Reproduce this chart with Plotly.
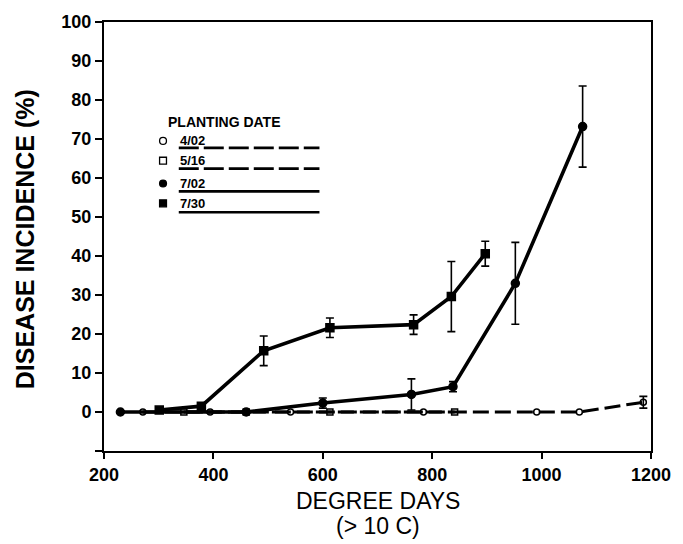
import plotly.graph_objects as go

# ---------------- data ----------------
x_0402 = [271, 394, 541, 784, 991, 1069, 1186]
y_0402 = [0, 0, 0, 0, 0, 0, 2.5]
e_0402 = [0, 0, 0, 0, 0, 0, 1.5]

x_0516 = [346, 460, 613, 841]
y_0516 = [0, 0, 0, 0]
e_0516 = [0, 0, 0, 0]

x_0702 = [230, 460, 600, 762, 838, 952, 1075]
y_0702 = [0, 0, 2.3, 4.5, 6.5, 33.0, 73.2]
e_0702 = [0, 0, 1.3, 4.0, 1.3, 10.5, 10.4]

x_0730 = [301, 378, 492, 613, 766, 835, 897]
y_0730 = [0.5, 1.5, 15.7, 21.6, 22.4, 29.6, 40.6]
e_0730 = [0, 0, 3.8, 2.5, 2.5, 9.0, 3.2]

legend_labels = ["4/02", "5/16", "7/02", "7/30"]
x_ticks = [200, 400, 600, 800, 1000, 1200]
y_ticks = [-10, 0, 10, 20, 30, 40, 50, 60, 70, 80, 90, 100]
y_ticktext = ["", "0", "10", "20", "30", "40", "50", "60", "70", "80", "90", "100"]

FONT = "Liberation Sans"
W_FIG, H_FIG = 683, 544
L, R, T, B = 104, 23, 18, 93
PW, PH = W_FIG - L - R, H_FIG - T - B

series = [
    (x_0402, y_0402, e_0402, "circle-open", "16px,6px", 3.0, 6),
    (x_0516, y_0516, e_0516, "square-open", "16px,6px", 3.0, 6),
    (x_0702, y_0702, e_0702, "circle", "solid", 3.6, 8),
    (x_0730, y_0730, e_0730, "square", "solid", 3.6, 8),
]

fig = go.Figure()
for xs, ys, es, sym, dash, lw, ms in series:
    fig.add_trace(go.Scatter(
        x=xs, y=ys, mode="lines+markers",
        line=dict(color="black", width=lw, dash=dash),
        marker=dict(symbol=sym, size=ms, color="black",
                    line=dict(color="black", width=1.5)),
        showlegend=False, hoverinfo="skip"))
    # error bars only where an error exists
    ex = [x for x, e in zip(xs, es) if e > 0]
    ey = [y for y, e in zip(ys, es) if e > 0]
    ee = [e for e in es if e > 0]
    if ex:
        fig.add_trace(go.Scatter(
            x=ex, y=ey, mode="markers",
            marker=dict(size=1, color="rgba(0,0,0,0)"),
            error_y=dict(type="data", array=ee, visible=True,
                         color="black", thickness=1.6, width=4),
            showlegend=False, hoverinfo="skip"))

# ---------------- hand-drawn style legend (paper coords) ----------------
def px(xp):
    return (xp - L) / PW

def py(yp):
    return (T + PH - yp) / PH

shapes = []
annotations = []
row_text_y = [138, 158, 181, 201]
row_line_y = [145, 166, 189, 210]
for i, (lab, s) in enumerate(zip(legend_labels, series)):
    sym, dash = s[3], s[4]
    mx, my, r = 164, row_text_y[i], 3.5
    filled = not sym.endswith("open")
    kind = "circle" if sym.startswith("circle") else "rect"
    shapes.append(dict(type=kind, xref="paper", yref="paper",
                       x0=px(mx - r), x1=px(mx + r), y0=py(my + r), y1=py(my - r),
                       line=dict(color="black", width=1.3),
                       fillcolor="black" if filled else "white"))
    shapes.append(dict(type="line", xref="paper", yref="paper",
                       x0=px(180), x1=px(323), y0=py(row_line_y[i]), y1=py(row_line_y[i]),
                       line=dict(color="black", width=2.6,
                                 dash="20px,5px" if dash != "solid" else "solid")))
    annotations.append(dict(text=lab, xref="paper", yref="paper",
                            x=px(179), y=py(row_text_y[i]), xanchor="left", yanchor="middle",
                            showarrow=False,
                            font=dict(family=FONT, size=13, color="black", weight="bold")))

annotations.append(dict(text="PLANTING DATE", xref="paper", yref="paper",
                        x=px(167), y=py(119), xanchor="left", yanchor="middle",
                        showarrow=False,
                        font=dict(family=FONT, size=14, color="black", weight="bold")))

# axis titles
annotations.append(dict(text="DEGREE DAYS", xref="paper", yref="paper",
                        x=0.5, y=py(501), xanchor="center", yanchor="middle",
                        showarrow=False,
                        font=dict(family=FONT, size=23, color="black")))
annotations.append(dict(text="(&gt; 10 C)", xref="paper", yref="paper",
                        x=0.5, y=py(527), xanchor="center", yanchor="middle",
                        showarrow=False,
                        font=dict(family=FONT, size=23, color="black")))
annotations.append(dict(text="DISEASE INCIDENCE (%)", xref="paper", yref="paper",
                        x=px(24), y=py(237), xanchor="center", yanchor="middle",
                        textangle=-90, showarrow=False,
                        font=dict(family=FONT, size=25, color="black", weight="bold")))

axis_common = dict(showgrid=False, zeroline=False, showline=True, mirror=True,
                   linecolor="black", linewidth=2, ticks="outside",
                   tickcolor="black", tickwidth=1.5,
                   tickfont=dict(family=FONT, size=18, color="black", weight="bold"))

fig.update_layout(
    width=W_FIG, height=H_FIG,
    margin=dict(l=L, r=R, t=T, b=B),
    paper_bgcolor="white", plot_bgcolor="white",
    xaxis=dict(range=[200, 1200], tickvals=x_ticks, ticklen=6, **axis_common),
    yaxis=dict(range=[-10, 100], tickvals=y_ticks, ticktext=y_ticktext,
               ticklen=7, **axis_common),
    shapes=shapes, annotations=annotations,
    showlegend=False,
)

fig.write_html("out.html")
